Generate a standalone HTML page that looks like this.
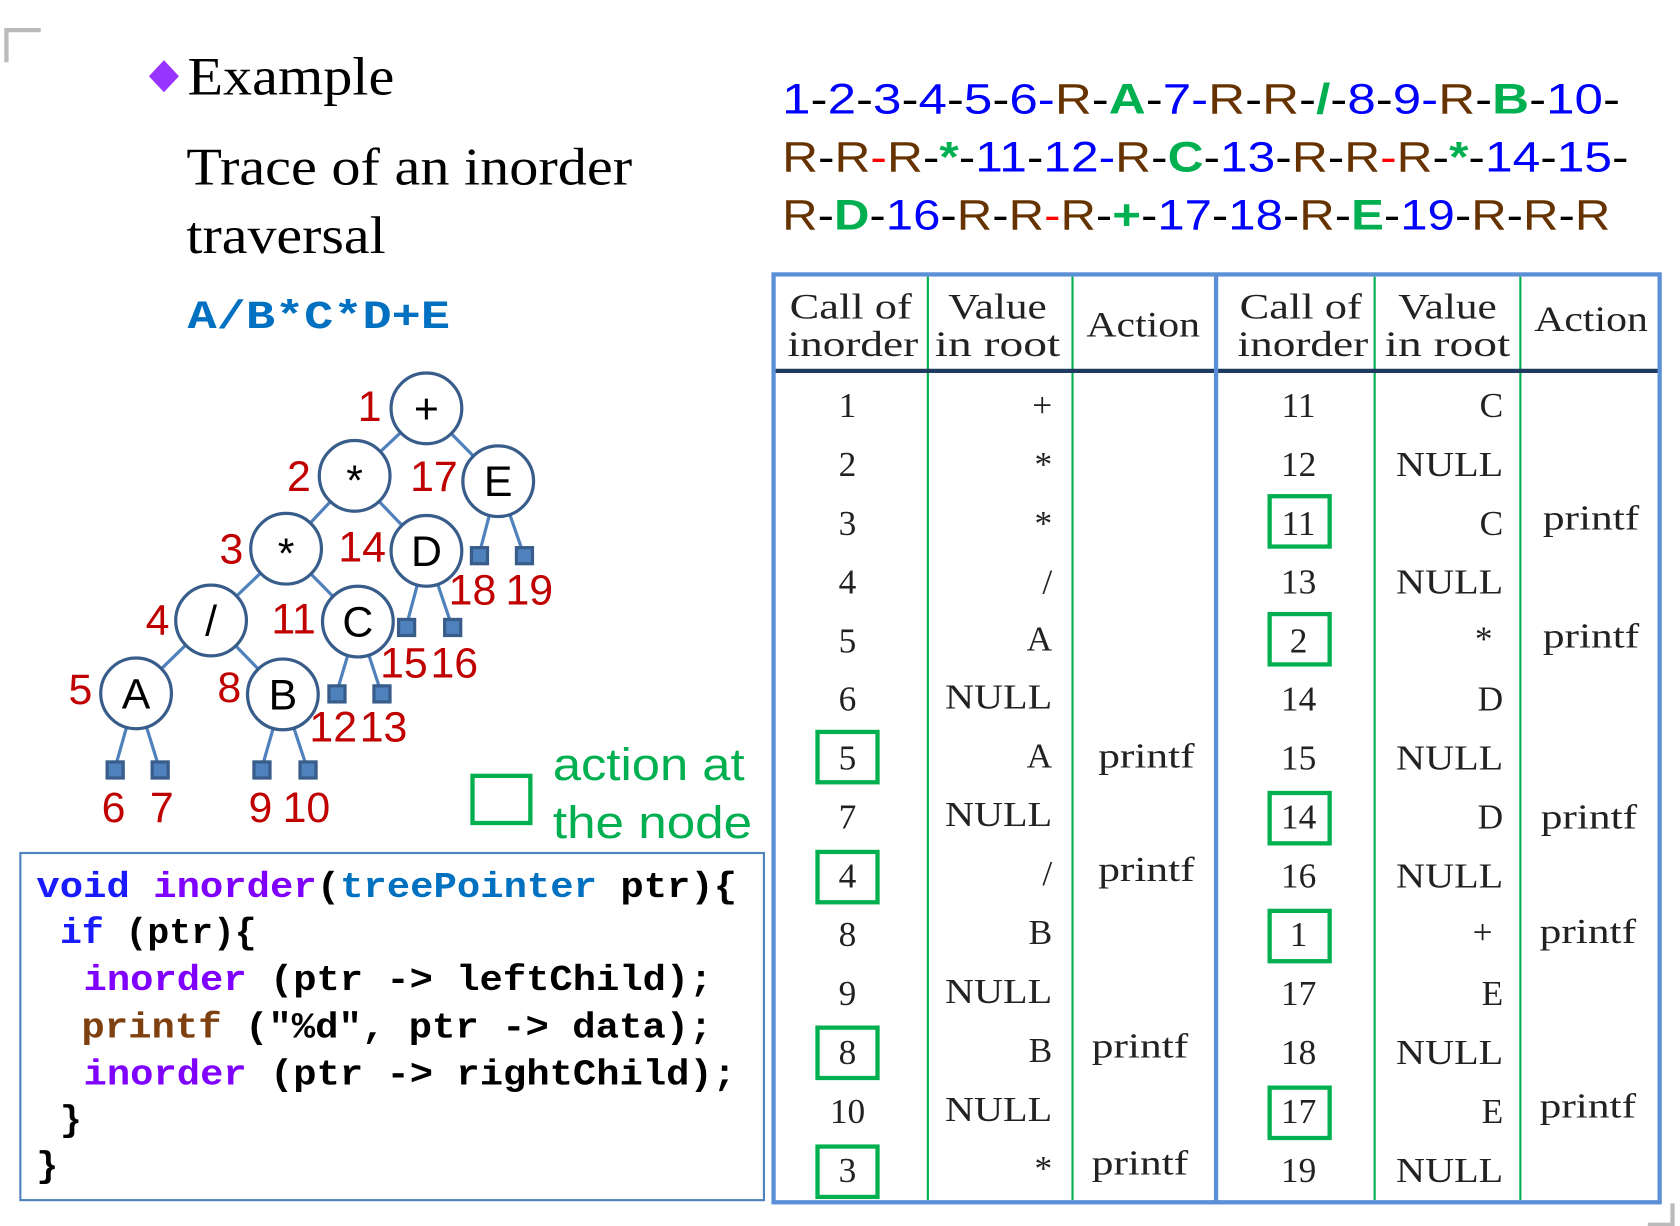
<!DOCTYPE html>
<html><head><meta charset="utf-8"><style>
html,body{margin:0;padding:0;background:#fff;width:1680px;height:1226px;overflow:hidden}
svg{display:block}
.sn{font-family:"Liberation Sans",sans-serif}
.sf{font-family:"Liberation Serif",serif}
.mo{font-family:"Liberation Mono",monospace;font-weight:bold}
</style></head><body>
<svg width="1680" height="1226" viewBox="0 0 1568 1144" xmlns="http://www.w3.org/2000/svg">
<path d="M6 58 V28 H38" fill="none" stroke="#bbb" stroke-width="4"/>
<path d="M1561 1123 V1143 H1538" fill="none" stroke="#bbb" stroke-width="4"/>

<polygon points="153,56 167,71 153,86 139,71" fill="#9933ff"/>
<text x="175" y="88" class="sf" font-size="50" textLength="193" lengthAdjust="spacingAndGlyphs">Example</text>
<text x="174" y="172" class="sf" font-size="49" textLength="416" lengthAdjust="spacingAndGlyphs">Trace of an inorder</text>
<text x="174" y="236" class="sf" font-size="49" textLength="186" lengthAdjust="spacingAndGlyphs">traversal</text>
<text x="175" y="306" class="mo" font-size="37" fill="#0070c0" textLength="245" lengthAdjust="spacingAndGlyphs">A/B*C*D+E</text>

<g class="sn" font-size="40">
<text x="730" y="106" textLength="782" lengthAdjust="spacingAndGlyphs"><tspan fill="#0000ff">1</tspan><tspan>-</tspan><tspan fill="#0000ff">2</tspan><tspan>-</tspan><tspan fill="#0000ff">3</tspan><tspan>-</tspan><tspan fill="#0000ff">4</tspan><tspan>-</tspan><tspan fill="#0000ff">5</tspan><tspan>-</tspan><tspan fill="#0000ff">6-</tspan><tspan fill="#663300">R</tspan><tspan>-</tspan><tspan fill="#00b050" font-weight="bold">A</tspan><tspan>-</tspan><tspan fill="#0000ff">7-</tspan><tspan fill="#663300">R</tspan><tspan>-</tspan><tspan fill="#663300">R</tspan><tspan>-</tspan><tspan fill="#00b050" font-weight="bold">/</tspan><tspan>-</tspan><tspan fill="#0000ff">8</tspan><tspan>-</tspan><tspan fill="#0000ff">9-</tspan><tspan fill="#663300">R</tspan><tspan>-</tspan><tspan fill="#00b050" font-weight="bold">B</tspan><tspan>-</tspan><tspan fill="#0000ff">10</tspan><tspan>-</tspan></text>
<text x="730" y="160" textLength="790" lengthAdjust="spacingAndGlyphs"><tspan fill="#663300">R</tspan><tspan>-</tspan><tspan fill="#663300">R</tspan><tspan fill="#ff0000">-</tspan><tspan fill="#663300">R</tspan><tspan>-</tspan><tspan fill="#00b050" font-weight="bold">*</tspan><tspan>-</tspan><tspan fill="#0000ff">11</tspan><tspan>-</tspan><tspan fill="#0000ff">12-</tspan><tspan fill="#663300">R</tspan><tspan>-</tspan><tspan fill="#00b050" font-weight="bold">C</tspan><tspan>-</tspan><tspan fill="#0000ff">13</tspan><tspan>-</tspan><tspan fill="#663300">R</tspan><tspan>-</tspan><tspan fill="#663300">R</tspan><tspan fill="#ff0000">-</tspan><tspan fill="#663300">R</tspan><tspan>-</tspan><tspan fill="#00b050" font-weight="bold">*</tspan><tspan>-</tspan><tspan fill="#0000ff">14</tspan><tspan>-</tspan><tspan fill="#0000ff">15</tspan><tspan>-</tspan></text>
<text x="730" y="214" textLength="773" lengthAdjust="spacingAndGlyphs"><tspan fill="#663300">R</tspan><tspan>-</tspan><tspan fill="#00b050" font-weight="bold">D</tspan><tspan>-</tspan><tspan fill="#0000ff">16</tspan><tspan>-</tspan><tspan fill="#663300">R</tspan><tspan>-</tspan><tspan fill="#663300">R</tspan><tspan fill="#ff0000">-</tspan><tspan fill="#663300">R</tspan><tspan>-</tspan><tspan fill="#00b050" font-weight="bold">+</tspan><tspan>-</tspan><tspan fill="#0000ff">17</tspan><tspan>-</tspan><tspan fill="#0000ff">18</tspan><tspan>-</tspan><tspan fill="#663300">R</tspan><tspan>-</tspan><tspan fill="#00b050" font-weight="bold">E</tspan><tspan>-</tspan><tspan fill="#0000ff">19</tspan><tspan>-</tspan><tspan fill="#663300">R</tspan><tspan>-</tspan><tspan fill="#663300">R</tspan><tspan>-</tspan><tspan fill="#663300">R</tspan></text>
</g>

<g stroke="#4f81bd" stroke-width="3">
<line x1="398" y1="381" x2="331" y2="444"/><line x1="398" y1="381" x2="465" y2="449"/>
<line x1="331" y1="444" x2="267" y2="512"/><line x1="331" y1="444" x2="398" y2="514"/>
<line x1="267" y1="512" x2="197" y2="579"/><line x1="267" y1="512" x2="334" y2="580"/>
<line x1="197" y1="579" x2="127" y2="647"/><line x1="197" y1="579" x2="264" y2="648"/>
<line x1="465" y1="449" x2="447" y2="518"/><line x1="465" y1="449" x2="489" y2="518"/>
<line x1="398" y1="514" x2="379" y2="585"/><line x1="398" y1="514" x2="422" y2="585"/>
<line x1="334" y1="580" x2="314" y2="647"/><line x1="334" y1="580" x2="356" y2="647"/>
<line x1="127" y1="647" x2="107" y2="718"/><line x1="127" y1="647" x2="149" y2="718"/>
<line x1="264" y1="648" x2="244" y2="718"/><line x1="264" y1="648" x2="287" y2="718"/>
</g>
<g fill="#4f81bd" stroke="#385d8a" stroke-width="3">
<rect x="440" y="511" width="15" height="15"/><rect x="482" y="511" width="15" height="15"/>
<rect x="372" y="578" width="15" height="15"/><rect x="415" y="578" width="15" height="15"/>
<rect x="307" y="640" width="15" height="15"/><rect x="349" y="640" width="15" height="15"/>
<rect x="100" y="711" width="15" height="15"/><rect x="142" y="711" width="15" height="15"/>
<rect x="237" y="711" width="15" height="15"/><rect x="280" y="711" width="15" height="15"/>
</g>
<g fill="#fff" stroke="#385d8a" stroke-width="3">
<circle cx="398" cy="381" r="33"/><circle cx="331" cy="444" r="33"/><circle cx="465" cy="449" r="33"/>
<circle cx="267" cy="512" r="33"/><circle cx="398" cy="514" r="33"/><circle cx="197" cy="579" r="33"/>
<circle cx="334" cy="580" r="33"/><circle cx="127" cy="647" r="33"/><circle cx="264" cy="648" r="33"/>
</g>
<g class="sn" font-size="40" text-anchor="middle" fill="#000">
<text x="398" y="395">+</text><text x="331" y="462">*</text><text x="465" y="463">E</text>
<text x="267" y="530">*</text><text x="398" y="528">D</text><text x="197" y="593">/</text>
<text x="334" y="594">C</text><text x="127" y="661">A</text><text x="264" y="662">B</text>
</g>
<g class="sn" font-size="40" text-anchor="middle" fill="#c00000">
<text x="345" y="393">1</text><text x="279" y="458">2</text><text x="405" y="458">17</text>
<text x="216" y="526">3</text><text x="338" y="524">14</text><text x="441" y="564">18</text><text x="494" y="564">19</text>
<text x="147" y="592">4</text><text x="274" y="591">11</text><text x="377" y="632">15</text><text x="424" y="632">16</text>
<text x="75" y="657">5</text><text x="214" y="655">8</text><text x="311" y="692">12</text><text x="358" y="692">13</text>
<text x="106" y="767">6</text><text x="151" y="767">7</text><text x="243" y="767">9</text><text x="286" y="767">10</text>
</g>

<rect x="441" y="724" width="54" height="44" fill="none" stroke="#00b050" stroke-width="4"/>
<text x="516" y="728" class="sn" font-size="42" fill="#00b050" textLength="179" lengthAdjust="spacingAndGlyphs">action at</text>
<text x="516" y="782" class="sn" font-size="42" fill="#00b050" textLength="186" lengthAdjust="spacingAndGlyphs">the node</text>

<rect x="19" y="796" width="694" height="324" fill="none" stroke="#4f81bd" stroke-width="2"/>
<g class="mo" font-size="34" fill="#000">
<text x="34" y="837" textLength="654" lengthAdjust="spacingAndGlyphs"><tspan fill="#1a1aff">void</tspan> <tspan fill="#7f00ff">inorder</tspan>(<tspan fill="#0070c0">treePointer</tspan> ptr){</text>
<text x="56" y="880"><tspan fill="#1a1aff">if</tspan> (ptr){</text>
<text x="78" y="924" textLength="587" lengthAdjust="spacingAndGlyphs"><tspan fill="#7f00ff">inorder</tspan> (ptr -&gt; leftChild);</text>
<text x="76" y="968" textLength="589" lengthAdjust="spacingAndGlyphs"><tspan fill="#7f4010">printf</tspan> ("%d", ptr -&gt; data);</text>
<text x="78" y="1012" textLength="609" lengthAdjust="spacingAndGlyphs"><tspan fill="#7f00ff">inorder</tspan> (ptr -&gt; rightChild);</text>
<text x="56" y="1055">}</text>
<text x="34" y="1098">}</text>
</g>

<g stroke="#00b050" stroke-width="2">
<line x1="866" y1="258" x2="866" y2="1120"/><line x1="1001" y1="258" x2="1001" y2="1120"/>
<line x1="1283" y1="258" x2="1283" y2="1120"/><line x1="1419" y1="258" x2="1419" y2="1120"/>
</g>
<line x1="722" y1="346" x2="1549" y2="346" stroke="#1f3a5f" stroke-width="4"/>
<line x1="1135" y1="256" x2="1135" y2="1122" stroke="#5b8fd6" stroke-width="4"/>
<rect x="722" y="256" width="827" height="866" fill="none" stroke="#5b8fd6" stroke-width="4"/>
<g class="sf" font-size="34" fill="#222" text-anchor="middle" lengthAdjust="spacingAndGlyphs">
<text x="794" y="297" textLength="114" lengthAdjust="spacingAndGlyphs">Call of</text><text x="796" y="332" textLength="122" lengthAdjust="spacingAndGlyphs">inorder</text>
<text x="931" y="297" textLength="92" lengthAdjust="spacingAndGlyphs">Value</text><text x="931" y="332" textLength="117" lengthAdjust="spacingAndGlyphs">in root</text>
<text x="1067" y="314" textLength="106" lengthAdjust="spacingAndGlyphs">Action</text>
<text x="1214" y="297" textLength="114" lengthAdjust="spacingAndGlyphs">Call of</text><text x="1216" y="332" textLength="122" lengthAdjust="spacingAndGlyphs">inorder</text>
<text x="1351" y="297" textLength="92" lengthAdjust="spacingAndGlyphs">Value</text><text x="1351" y="332" textLength="117" lengthAdjust="spacingAndGlyphs">in root</text>
<text x="1485" y="309" textLength="106" lengthAdjust="spacingAndGlyphs">Action</text>
</g>
<g class="sf" font-size="33" fill="#222">
<g text-anchor="middle">
<text x="791" y="389">1</text><text x="791" y="444">2</text><text x="791" y="499">3</text><text x="791" y="554">4</text>
<text x="791" y="609">5</text><text x="791" y="663">6</text><text x="791" y="718">5</text><text x="791" y="773">7</text>
<text x="791" y="828">4</text><text x="791" y="883">8</text><text x="791" y="938">9</text><text x="791" y="993">8</text>
<text x="791" y="1048">10</text><text x="791" y="1103">3</text>
<text x="1212" y="389">11</text><text x="1212" y="444">12</text><text x="1212" y="499">11</text><text x="1212" y="554">13</text>
<text x="1212" y="609">2</text><text x="1212" y="663">14</text><text x="1212" y="718">15</text><text x="1212" y="773">14</text>
<text x="1212" y="828">16</text><text x="1212" y="883">1</text><text x="1212" y="938">17</text><text x="1212" y="993">18</text>
<text x="1212" y="1048">17</text><text x="1212" y="1103">19</text>
</g>
<g lengthAdjust="spacingAndGlyphs">
<text x="1025" y="716" textLength="90" lengthAdjust="spacingAndGlyphs">printf</text><text x="1025" y="822" textLength="90" lengthAdjust="spacingAndGlyphs">printf</text><text x="1019" y="987" textLength="90" lengthAdjust="spacingAndGlyphs">printf</text><text x="1019" y="1096" textLength="90" lengthAdjust="spacingAndGlyphs">printf</text>
<text x="1440" y="494" textLength="90" lengthAdjust="spacingAndGlyphs">printf</text><text x="1440" y="604" textLength="90" lengthAdjust="spacingAndGlyphs">printf</text><text x="1438" y="773" textLength="90" lengthAdjust="spacingAndGlyphs">printf</text><text x="1437" y="880" textLength="90" lengthAdjust="spacingAndGlyphs">printf</text><text x="1437" y="1043" textLength="90" lengthAdjust="spacingAndGlyphs">printf</text>
<text x="882" y="661" textLength="100" lengthAdjust="spacingAndGlyphs">NULL</text><text x="882" y="771" textLength="100" lengthAdjust="spacingAndGlyphs">NULL</text><text x="882" y="936" textLength="100" lengthAdjust="spacingAndGlyphs">NULL</text><text x="882" y="1046" textLength="100" lengthAdjust="spacingAndGlyphs">NULL</text>
<text x="1303" y="444" textLength="100" lengthAdjust="spacingAndGlyphs">NULL</text><text x="1303" y="554" textLength="100" lengthAdjust="spacingAndGlyphs">NULL</text><text x="1303" y="718" textLength="100" lengthAdjust="spacingAndGlyphs">NULL</text><text x="1303" y="828" textLength="100" lengthAdjust="spacingAndGlyphs">NULL</text><text x="1303" y="993" textLength="100" lengthAdjust="spacingAndGlyphs">NULL</text><text x="1303" y="1103" textLength="100" lengthAdjust="spacingAndGlyphs">NULL</text>
</g>
<g text-anchor="end">
<text x="982" y="389">+</text><text x="982" y="444">*</text><text x="982" y="499">*</text><text x="982" y="554">/</text>
<text x="982" y="607">A</text><text x="982" y="716">A</text>
<text x="982" y="826">/</text><text x="982" y="881">B</text><text x="982" y="991">B</text>
<text x="982" y="1101">*</text>
<text x="1403" y="389">C</text><text x="1403" y="499">C</text>
<text x="1393" y="607">*</text><text x="1403" y="663">D</text><text x="1403" y="773">D</text>
<text x="1393" y="881">+</text><text x="1403" y="938">E</text>
<text x="1403" y="1048">E</text>
</g>
</g>
<g fill="none" stroke="#00b050" stroke-width="4">
<rect x="763" y="683" width="56" height="47"/><rect x="763" y="795" width="56" height="47"/>
<rect x="763" y="959" width="56" height="47"/><rect x="763" y="1070" width="56" height="47"/>
<rect x="1185" y="463" width="56" height="47"/><rect x="1185" y="573" width="56" height="47"/>
<rect x="1185" y="740" width="56" height="47"/><rect x="1185" y="850" width="56" height="47"/>
<rect x="1185" y="1015" width="56" height="47"/>
</g>
</svg>
</body></html>
